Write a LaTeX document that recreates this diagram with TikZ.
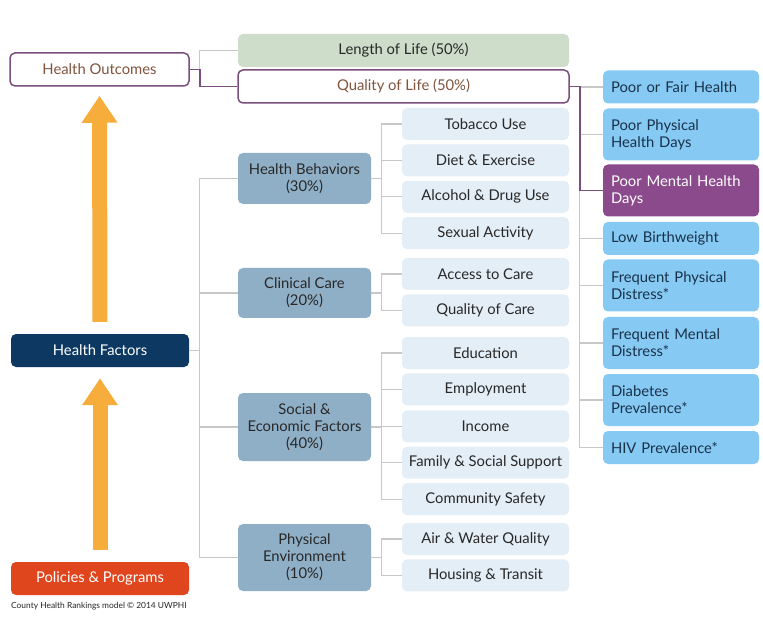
\documentclass[tikz,border=0pt]{standalone}
\usepackage{fontspec}
\setmainfont{Lato}
\usepackage{tikz}
\usetikzlibrary{arrows.meta, positioning}
\definecolor{outpurple}{RGB}{122,78,126}
\definecolor{outtext}{RGB}{128,84,62}
\definecolor{mentalpurple}{RGB}{139,74,140}
\definecolor{lifegreen}{RGB}{206,220,202}
\definecolor{factorblue}{RGB}{143,175,199}
\definecolor{subblue}{RGB}{228,238,247}
\definecolor{measblue}{RGB}{134,201,243}
\definecolor{hfnavy}{RGB}{13,56,98}
\definecolor{pporange}{RGB}{224,70,30}
\definecolor{arroworange}{RGB}{246,173,60}
\definecolor{linegray}{RGB}{200,200,200}
\definecolor{txtdark}{RGB}{40,40,40}
\definecolor{meastext}{RGB}{25,50,75}
\tikzset{
  box/.style={rectangle, rounded corners=5pt, align=center, inner sep=2pt,
    font=\fontsize{14.8}{17}\selectfont, text=txtdark},
  outcome/.style={box, draw=outpurple, line width=1.5pt, fill=white, text=outtext},
  life/.style={box, fill=lifegreen, minimum width=331pt, minimum height=33pt},
  base/.style={box, minimum width=178pt, minimum height=33pt, text=white},
  factor/.style={box, fill=factorblue, minimum width=133pt},
  sub/.style={box, fill=subblue, minimum width=167pt, minimum height=32pt},
  measure/.style={box, fill=measblue, text width=140pt, inner xsep=8pt,
    align=left, minimum height=33pt, text=meastext},
  measure2/.style={measure, minimum height=52pt},
  link/.style={draw=linegray, line width=1.2pt},
  linkp/.style={draw=outpurple, line width=1.5pt},
  uparrow/.style={draw=arroworange, line width=15pt,
    -{Triangle[length=27pt, width=34pt]}}
}
\begin{document}
\begin{tikzpicture}[x=1pt, y=-1pt]
  \path[use as bounding box, fill=white] (0,0) rectangle (763,620);

  % left column
  \node[outcome, minimum width=179pt, minimum height=33pt] (ho) at (99.5,69.5) {Health Outcomes};
  \node[base, fill=hfnavy] (hf) at (100,350.5) {Health Factors};
  \node[base, fill=pporange] (pp) at (100,578.5) {Policies \& Programs};
  \node[anchor=west, inner sep=2pt, font=\fontsize{8.4}{10}\selectfont, text=black!85] (credit)
    at (9,606) {County Health Rankings model © 2014 UWPHI};
  \draw[uparrow] ([yshift=12pt]hf.north) -- ([yshift=-9pt]ho.south);
  \draw[uparrow] ([yshift=12pt]pp.north) -- ([yshift=-11pt]hf.south);

  % outcomes
  \node[life] (lol) at (403.5,50.5) {Length of Life (50\%)};
  \node[outcome, minimum width=331pt, minimum height=33pt] (qol) at (403.5,86.5) {Quality of Life (50\%)};

  % factors
  \node[factor, minimum height=51pt] (hb) at (304.5,178.5) {Health Behaviors\\(30\%)};
  \node[factor, minimum height=50pt] (cc) at (304.5,293) {Clinical Care\\(20\%)};
  \node[factor, minimum height=68pt] (se) at (304.5,427) {Social \&\\Economic Factors\\(40\%)};
  \node[factor, minimum height=67pt] (pe) at (304.5,557.5) {Physical\\Environment\\(10\%)};

  \node[sub] (tob) at (485.5,124) {Tobacco Use};
  \node[sub, below=4pt of tob] (diet) {Diet \& Exercise};
  \node[sub, below=4pt of diet] (alc) {Alcohol \& Drug Use};
  \node[sub, below=4pt of alc] (sex) {Sexual Activity};
  \node[sub] (acc) at (485.5,274) {Access to Care};
  \node[sub, below=4pt of acc] (qoc) {Quality of Care};
  \node[sub] (edu) at (485.5,353) {Education};
  \node[sub, below=4pt of edu] (emp) {Employment};
  \node[sub, below=4.5pt of emp] (inc) {Income};
  \node[sub, below=4pt of inc] (fam) {Family \& Social Support};
  \node[sub, below=4pt of fam] (com) {Community Safety};
  \node[sub] (air) at (485.5,539) {Air \& Water Quality};
  \node[sub, below=4pt of air] (hou) {Housing \& Transit};

  % quality of life measures
  \node[measure] (pfh) at (681,87) {Poor or Fair Health};
  \node[measure2] (ppd) at (681,134.5) {Poor Physical\\Health Days};
  \node[measure2, fill=mentalpurple, text=white] (pmd) at (681,190.5) {Poor Mental Health\\Days};
  \node[measure] (lbw) at (681,238.5) {Low Birthweight};
  \node[measure2] (fpd) at (681,285.5) {Frequent Physical\\Distress*};
  \node[measure2] (fmd) at (681,343) {Frequent Mental\\Distress*};
  \node[measure2] (dia) at (681,400) {Diabetes\\Prevalence*};
  \node[measure] (hiv) at (681,447.5) {HIV Prevalence*};

  % connectors
  \draw[link] (ho.east) -- ++(10,0) coordinate (hoj);
  \draw[link] (hoj) |- (lol.west);
  \draw[linkp] (ho.east) -- (hoj) |- (qol.west);

  \draw[link] (hf.east) -- ++(10,0) coordinate (hfj);
  \foreach \n in {hb,cc,se,pe} \draw[link] (hfj) |- (\n.west);

  \draw[link] (hb.east) -- ++(10,0) coordinate (hbj);
  \foreach \n in {tob,diet,alc,sex} \draw[link] (hbj) |- (\n.west);
  \draw[link] (cc.east) -- ++(10,0) coordinate (ccj);
  \foreach \n in {acc,qoc} \draw[link] (ccj) |- (\n.west);
  \draw[link] (se.east) -- ++(10,0) coordinate (sej);
  \foreach \n in {edu,emp,inc,fam,com} \draw[link] (sej) |- (\n.west);
  \draw[link] (pe.east) -- ++(10,0) coordinate (pej);
  \foreach \n in {air,hou} \draw[link] (pej) |- (\n.west);

  \draw[link] (qol.east) -- ++(10,0) coordinate (qj);
  \foreach \n in {pfh,ppd,lbw,fpd,fmd,dia,hiv} \draw[link] (qj) |- (\n.west);
  \draw[linkp] (qol.east) -- (qj) |- (pmd.west);
\end{tikzpicture}
\end{document}
